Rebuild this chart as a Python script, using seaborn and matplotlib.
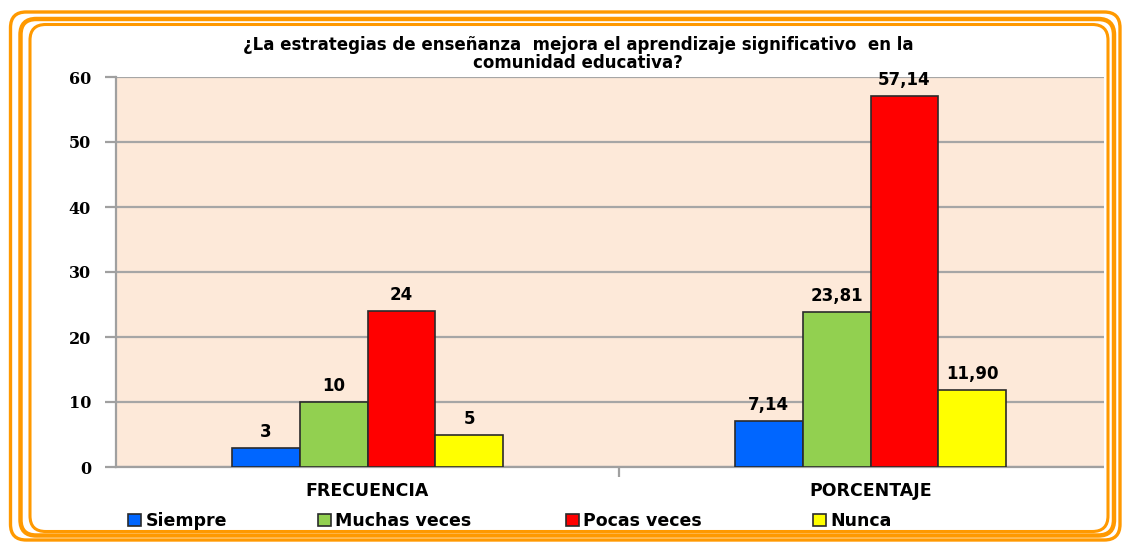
import matplotlib
matplotlib.use("Agg")
import matplotlib.pyplot as plt
import seaborn as sns
import pandas as pd
from matplotlib.patches import FancyBboxPatch, Rectangle
from matplotlib.ticker import FixedLocator

# datos del grafico
grupos = ["FRECUENCIA", "PORCENTAJE"]
respuestas = ["Siempre", "Muchas veces", "Pocas veces", "Nunca"]
frecuencia = [3, 10, 24, 5]
porcentaje = [7.14, 23.81, 57.14, 11.90]
colores = ["#0066FF", "#92D050", "#FF0000", "#FFFF00"]
titulo = ("¿La estrategias de enseñanza  mejora el aprendizaje significativo  en la\n"
          "comunidad educativa?")

rows = []
for g, vals in zip(grupos, [frecuencia, porcentaje]):
    for r, v in zip(respuestas, vals):
        rows.append({"grupo": g, "respuesta": r, "valor": v})
df = pd.DataFrame(rows)

W, H = 1122, 542
fig = plt.figure(figsize=(W / 100, H / 100), dpi=100)
fig.patch.set_facecolor("white")
ax = fig.add_axes([116 / W, 75 / H, 1 - 116 / W, (467 - 77) / H])

sns.barplot(data=df, x="grupo", y="valor", hue="respuesta", hue_order=respuestas,
            palette=colores, width=0.54, edgecolor="#2b2b2b", linewidth=1.2,
            saturation=1, ax=ax, zorder=3)

ax.set_facecolor("#FDE9D9")
ax.set_ylim(0, 60)
ax.set_xlim(-0.5, 1.5)
ax.set_yticks(range(0, 61, 10))
ax.yaxis.grid(True, color="#A6A6A6", linewidth=1.6, zorder=0)
ax.set_axisbelow(True)
ax.set_xlabel("")
ax.set_ylabel("")
for s in ["top", "right"]:
    ax.spines[s].set_visible(False)
for s in ["left", "bottom"]:
    ax.spines[s].set_color("#A0A0A0")
    ax.spines[s].set_linewidth(1.6)

ax.tick_params(axis="x", length=0, pad=11)
ax.xaxis.set_minor_locator(FixedLocator([0.5]))
ax.tick_params(axis="x", which="minor", length=7, color="#A0A0A0", width=1.6)
ax.tick_params(axis="y", length=8, color="#A0A0A0", width=1.6, pad=10)
for t in ax.get_xticklabels():
    t.set_fontfamily("DejaVu Sans")
    t.set_fontweight("bold")
    t.set_fontsize(12.5)
for t in ax.get_yticklabels():
    t.set_fontfamily("DejaVu Serif")
    t.set_fontweight("bold")
    t.set_fontsize(11.5)

# etiquetas de datos
for cont, resp in zip(ax.containers, respuestas):
    labs = []
    for g in grupos:
        v = df[(df.grupo == g) & (df.respuesta == resp)].valor.iloc[0]
        if g == "FRECUENCIA":
            labs.append(f"{v:g}")
        else:
            labs.append(f"{v:.2f}".replace(".", ","))
    ax.bar_label(cont, labels=labs, padding=5, fontsize=12, fontweight="bold",
                 fontfamily="DejaVu Sans")

handles, labels = ax.get_legend_handles_labels()
if ax.get_legend() is not None:
    ax.get_legend().remove()

fig.text(578 / W, 1 - 54 / H, titulo, ha="center", va="center", fontsize=12,
         fontweight="bold", fontfamily="DejaVu Sans", linespacing=0.95)

# leyenda (una entrada por posicion)
leg_x = [128, 318, 566, 813]
for h, l, x in zip(handles, labels, leg_x):
    fig.legend(handles=[h], labels=[l], loc="center left",
               bbox_to_anchor=(x / W, 1 - 521 / H), frameon=False, borderpad=0,
               borderaxespad=0, handlelength=0.75, handleheight=0.75,
               handletextpad=0.25, prop={"family": "DejaVu Sans", "weight": "bold", "size": 12.5})

# marco naranja redondeado
fig.add_artist(Rectangle((1104 / W, 0), 18 / W, 1, transform=fig.transFigure,
                         facecolor="white", edgecolor="none", zorder=9))


def marco(x0, y0, x1, y1, lw):
    p = FancyBboxPatch((x0 / W, 1 - y1 / H), (x1 - x0) / W, (y1 - y0) / H,
                       boxstyle="round,pad=0,rounding_size=0.014",
                       transform=fig.transFigure, facecolor="none",
                       edgecolor="#FF9900", linewidth=lw, zorder=10,
                       mutation_aspect=W / H)
    fig.add_artist(p)


marco(10.5, 12, 1120, 540, 2.4)
marco(20.5, 19, 1114, 535.5, 3.2)
marco(30, 24.5, 1108, 531.5, 2.2)

fig.savefig("out.png", dpi=100, facecolor="white")
